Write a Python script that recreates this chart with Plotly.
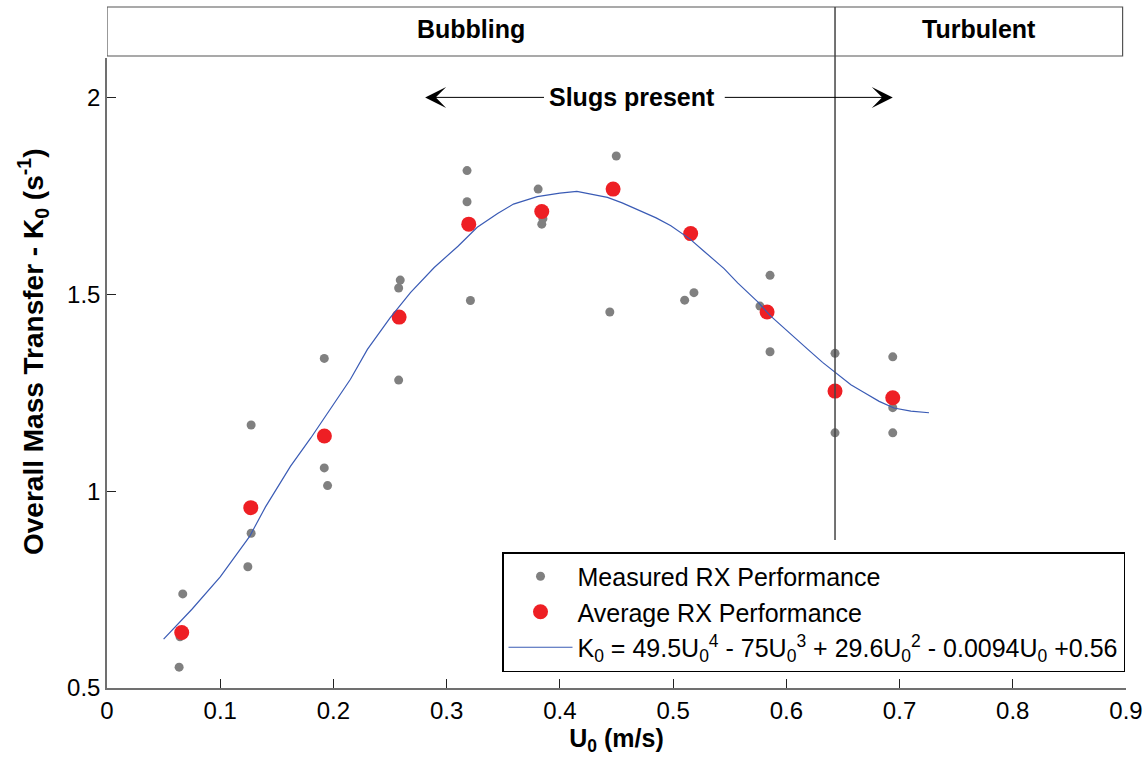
import plotly.graph_objects as go

# Measured RX performance (gray points)
meas_x = [0.0669, 0.0645, 0.0637,
          0.1273, 0.1273, 0.1244,
          0.1919, 0.1919, 0.1948,
          0.2590, 0.2576, 0.2576,
          0.3180, 0.3180, 0.3210,
          0.3808, 0.3840, 0.3850,
          0.4498, 0.4441,
          0.5102, 0.5184,
          0.5856, 0.5767, 0.5856,
          0.6430, 0.6430,
          0.6940, 0.6940, 0.6940]
meas_y = [0.739, 0.630, 0.553,
          1.168, 0.893, 0.808,
          1.337, 1.059, 1.014,
          1.536, 1.516, 1.282,
          1.814, 1.735, 1.484,
          1.767, 1.678, 1.692,
          1.851, 1.455,
          1.485, 1.504,
          1.548, 1.470, 1.354,
          1.350, 1.148,
          1.341, 1.212, 1.148]

# Average RX performance (red points)
avg_x = [0.066, 0.127, 0.192, 0.258, 0.3195, 0.384, 0.447, 0.5155, 0.583, 0.643, 0.694]
avg_y = [0.641, 0.958, 1.140, 1.442, 1.678, 1.710, 1.767, 1.654, 1.455, 1.254, 1.237]

# Fitted curve
fit_x = [0.050, 0.075, 0.100, 0.126, 0.140, 0.162, 0.180, 0.197, 0.215, 0.230, 0.250, 0.268,
         0.289, 0.310, 0.327, 0.345, 0.359, 0.380, 0.400, 0.415, 0.442, 0.455, 0.468, 0.485,
         0.498, 0.515, 0.527, 0.545, 0.557, 0.575, 0.586, 0.605, 0.619, 0.632, 0.644, 0.657,
         0.669, 0.682, 0.695, 0.710, 0.726]
fit_y = [0.624, 0.700, 0.782, 0.885, 0.960, 1.063, 1.135, 1.208, 1.284, 1.360, 1.440, 1.504,
         1.568, 1.622, 1.670, 1.705, 1.729, 1.748, 1.757, 1.761, 1.746, 1.732, 1.716, 1.694,
         1.674, 1.640, 1.610, 1.565, 1.529, 1.480, 1.445, 1.395, 1.360, 1.327, 1.299, 1.270,
         1.250, 1.228, 1.211, 1.203, 1.199]

x_ticks = [0, 0.1, 0.2, 0.3, 0.4, 0.5, 0.6, 0.7, 0.8, 0.9]
x_ticktext = ["0", "0.1", "0.2", "0.3", "0.4", "0.5", "0.6", "0.7", "0.8", "0.9"]
y_ticks = [0.5, 1, 1.5, 2]
y_ticktext = ["0.5", "1", "1.5", "2"]

regime_labels = ["Bubbling", "Turbulent"]
regime_boundary = 0.643
slug_range = [0.281, 0.694]

FONT = "Liberation Sans, Arial, Helvetica, sans-serif"

fig = go.Figure()
fig.add_trace(go.Scatter(x=meas_x, y=meas_y, mode="markers",
                         marker=dict(color="#808080", size=9),
                         name="Measured RX Performance"))
fig.add_trace(go.Scatter(x=avg_x, y=avg_y, mode="markers",
                         marker=dict(color="#ee1f24", size=15),
                         name="Average RX Performance"))
fig.add_trace(go.Scatter(x=fit_x, y=fit_y, mode="lines",
                         line=dict(color="#3a5bb5", width=1.2),
                         name="K<sub>0</sub> = 49.5U<sub>0</sub><sup>4</sup> - 75U<sub>0</sub><sup>3</sup> + 29.6U<sub>0</sub><sup>2</sup> - 0.0094U<sub>0</sub> +0.56"))

W, H = 1147, 763
ml, mr, mt, mb = 107, 21, 58, 75
ph = H - mt - mb
pw = W - ml - mr

def py(pix):
    return (H - mb - pix) / ph

shapes = [
    dict(type="rect", xref="x", yref="paper", x0=0, x1=0.897, y0=py(56), y1=py(7),
         line=dict(color="#555555", width=1.2), fillcolor="white", layer="above"),
    dict(type="line", xref="x", yref="paper", x0=regime_boundary, x1=regime_boundary,
         y0=py(540), y1=py(7), line=dict(color="#444444", width=1.5), layer="above"),
]

annotations = [
    dict(text="<b>" + regime_labels[0] + "</b>", xref="x", yref="paper",
         x=regime_boundary / 2, y=py(29), yanchor="middle", showarrow=False,
         font=dict(size=25, color="black", family=FONT)),
    dict(text="<b>" + regime_labels[1] + "</b>", xref="x", yref="paper",
         x=(regime_boundary + 0.897) / 2, y=py(29), yanchor="middle", showarrow=False,
         font=dict(size=25, color="black", family=FONT)),
    dict(text="<b>Slugs present</b>", xref="x", yref="y", x=0.4637, y=2.0,
         yanchor="middle", showarrow=False, font=dict(size=25, color="black", family=FONT)),
    dict(text="", xref="x", yref="y", x=slug_range[0], y=2.0, axref="x", ayref="y",
         ax=0.3873, ay=2.0, showarrow=True, arrowhead=3, arrowsize=3.5, arrowwidth=1,
         arrowcolor="black", standoff=0, startstandoff=0),
    dict(text="", xref="x", yref="y", x=slug_range[1], y=2.0, axref="x", ayref="y",
         ax=0.5443, ay=2.0, showarrow=True, arrowhead=3, arrowsize=3.5, arrowwidth=1,
         arrowcolor="black", standoff=0, startstandoff=0),
    dict(text="<b>Overall Mass Transfer - K<sub>0</sub> (s<sup>-1</sup>)</b>",
         xref="paper", yref="paper", x=(33 - ml) / pw, y=py(352),
         textangle=-90, showarrow=False, xanchor="center", yanchor="middle",
         font=dict(size=28, color="black", family=FONT)),
]

fig.update_layout(
    width=W, height=H,
    margin=dict(l=ml, r=mr, t=mt, b=mb, autoexpand=False),
    paper_bgcolor="white", plot_bgcolor="white",
    font=dict(family=FONT, size=24, color="black"),
    shapes=shapes, annotations=annotations,
    showlegend=True,
    legend=dict(x=(1125 - ml) / pw, y=py(672), xanchor="right", yanchor="bottom",
                bgcolor="white", bordercolor="black", borderwidth=1.5,
                font=dict(size=25, family=FONT, color="black"),
                itemwidth=64, tracegroupgap=0),
    xaxis=dict(range=[0, 0.9], tickvals=x_ticks, ticktext=x_ticktext, automargin=False,
               showline=True, linecolor="#707070", linewidth=1.5, mirror=False,
               ticks="inside", ticklen=9, tickcolor="#222222", showgrid=False, zeroline=False,
               title=dict(text="<b>U<sub>0</sub> (m/s)</b>", font=dict(size=25), standoff=4),
               tickfont=dict(size=24)),
    yaxis=dict(range=[0.5, 2.1], tickvals=y_ticks, ticktext=y_ticktext, automargin=False,
               showline=True, linecolor="#707070", linewidth=1.5, mirror=False,
               ticks="inside", ticklen=9, tickcolor="#222222", showgrid=False, zeroline=False,
               tickfont=dict(size=24)),
)

fig.write_html("out.html")
